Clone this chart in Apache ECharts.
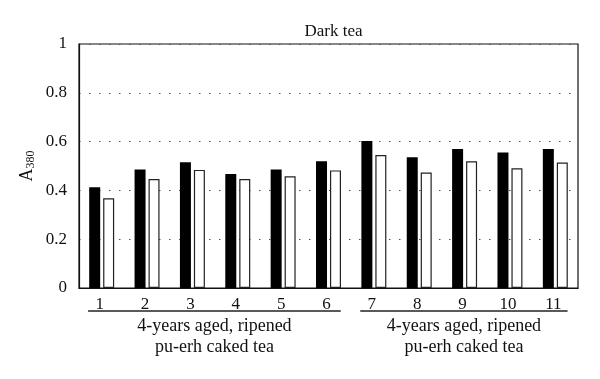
<!DOCTYPE html>
<html><head><meta charset="utf-8">
<script src="https://cdn.jsdelivr.net/npm/echarts@6/dist/echarts.min.js"></script>
<style>html,body{margin:0;padding:0;background:#fff}#c{width:600px;height:379px}</style>
</head><body><div id="c"></div>
<script>
var categories = ['1','2','3','4','5','6','7','8','9','10','11'];
var blackValues = [0.413,0.486,0.515,0.467,0.486,0.519,0.602,0.536,0.570,0.555,0.570];
var whiteValues = [0.368,0.447,0.484,0.447,0.458,0.482,0.545,0.473,0.519,0.491,0.514];
var yTicks = [0,0.2,0.4,0.6,0.8,1];
var groups = [
  {from:0, to:5, label:'4-years aged, ripened\npu-erh caked tea'},
  {from:6, to:10, label:'4-years aged, ripened\npu-erh caked tea'}
];
var FONT = '"Liberation Serif","DejaVu Serif",serif';
var chart = echarts.init(document.getElementById('c'));
var L=79, R=22, T=44, B=91;
chart.setOption({
  animation:false,
  title:{text:'Dark tea', left:(L+600-R)/2, top:18, textAlign:'center',
    textStyle:{fontFamily:FONT,fontWeight:'normal',fontSize:17,color:'#111'}},
  grid:{left:L,right:R,top:T,bottom:B,show:true,borderColor:'#111',borderWidth:1.2,backgroundColor:'#fff'},
  xAxis:{type:'category',data:categories,
    axisLine:{show:true,lineStyle:{color:'#111',width:1.2}},
    axisTick:{show:false},
    axisLabel:{fontFamily:FONT,fontSize:17,color:'#111',margin:8,padding:[0,4,0,0]}},
  yAxis:{type:'value',min:0,max:1,interval:0.2,
    name:'{a|A}{s|380}',nameLocation:'middle',nameGap:42,nameRotate:90,nameMoveOverlap:false,
    nameTextStyle:{rich:{a:{fontFamily:FONT,fontSize:18,color:'#111'},s:{fontFamily:FONT,fontSize:12,color:'#111',verticalAlign:'bottom',padding:[7,0,0,0]}}},
    axisLine:{show:true,lineStyle:{color:'#111',width:1.2}},
    axisTick:{show:false},
    axisLabel:{fontFamily:FONT,fontSize:17,color:'#111',margin:12,
      formatter:function(v){return yTicks.indexOf(+v.toFixed(1))>=0?String(+v.toFixed(1)):'';}},
    splitLine:{show:true,lineStyle:{color:'#555',type:[1.5,8.5],width:1.2}}},
  series:[
    {type:'bar',data:blackValues,barWidth:11,barGap:'27%',itemStyle:{color:'#000'}},
    {type:'bar',data:whiteValues,barWidth:11,itemStyle:{color:'#fff',borderColor:'#222',borderWidth:1.2}}
  ]
});
var els=[];
groups.forEach(function(g){
  var x0=chart.convertToPixel({xAxisIndex:0},g.from);
  var x1=chart.convertToPixel({xAxisIndex:0},g.to);
  var step=chart.convertToPixel({xAxisIndex:0},1)-chart.convertToPixel({xAxisIndex:0},0);
  var a=x0-step*0.3, b=x1+step*0.27;
  var yLine=chart.convertToPixel({yAxisIndex:0},0)+23;
  els.push({type:'line',shape:{x1:a,y1:yLine,x2:b,y2:yLine},style:{stroke:'#222',lineWidth:1.3}});
  els.push({type:'text',x:(a+b)/2,y:yLine+5,style:{text:g.label,font:'18px '+FONT,fill:'#111',align:'center',verticalAlign:'top',lineHeight:21}});
});
chart.setOption({graphic:els});
</script></body></html>
